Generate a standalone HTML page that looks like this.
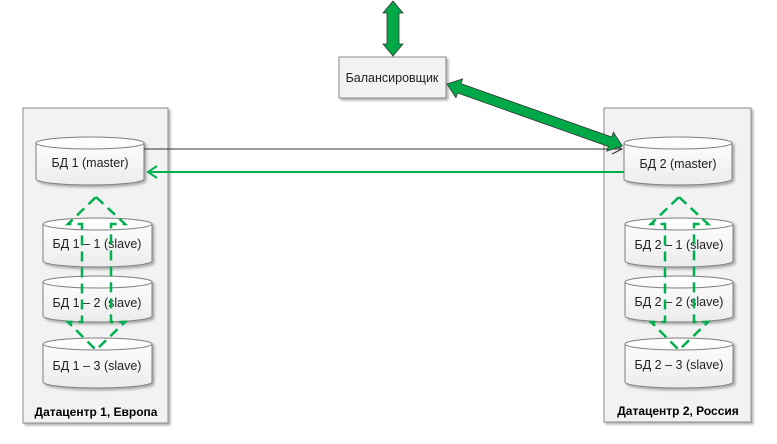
<!DOCTYPE html>
<html><head><meta charset="utf-8"><style>
html,body{margin:0;padding:0;background:#fff;}
svg{display:block;font-family:"Liberation Sans","DejaVu Sans",sans-serif;}
</style></head><body>
<svg width="777" height="444" viewBox="0 0 777 444">
<defs>
<linearGradient id="cg" x1="0" y1="0" x2="0" y2="1"><stop offset="0" stop-color="#ffffff"/><stop offset="1" stop-color="#ececec"/></linearGradient>
<filter id="sh" x="-10%" y="-10%" width="130%" height="130%"><feDropShadow dx="2" dy="2" stdDeviation="1.2" flood-color="#000" flood-opacity="0.3"/></filter>
</defs>
<rect x="23" y="108" width="145" height="315" fill="#f2f2f2" stroke="#8a8a8a" stroke-width="1" filter="url(#sh)"/>
<rect x="604" y="108" width="147" height="314" fill="#f2f2f2" stroke="#8a8a8a" stroke-width="1" filter="url(#sh)"/>
<text x="96" y="416" font-size="12" font-weight="bold" text-anchor="middle" fill="#000">Датацентр 1, Европа</text>
<text x="678" y="415" font-size="12" font-weight="bold" text-anchor="middle" fill="#000">Датацентр 2, Россия</text>

<g stroke="#7f7f7f" stroke-width="1" filter="url(#sh)">
<path d="M36,143 A54,6 0 0 1 144,143 V179 A54,6 0 0 1 36,179 Z" fill="url(#cg)"/>
<path d="M43,224 A54.5,6 0 0 1 152,224 V261 A54.5,6 0 0 1 43,261 Z" fill="url(#cg)"/>
<path d="M43,282 A54.5,6 0 0 1 152,282 V316 A54.5,6 0 0 1 43,316 Z" fill="url(#cg)"/>
<path d="M43,344 A54.5,6 0 0 1 152,344 V382 A54.5,6 0 0 1 43,382 Z" fill="url(#cg)"/>
<path d="M624,143 A54,6 0 0 1 732,143 V179 A54,6 0 0 1 624,179 Z" fill="url(#cg)"/>
<path d="M625,224 A54,6 0 0 1 733,224 V261 A54,6 0 0 1 625,261 Z" fill="url(#cg)"/>
<path d="M625,282 A54,6 0 0 1 733,282 V316 A54,6 0 0 1 625,316 Z" fill="url(#cg)"/>
<path d="M625,344 A54,6 0 0 1 733,344 V382 A54,6 0 0 1 625,382 Z" fill="url(#cg)"/>
</g>
<g stroke="#7f7f7f" stroke-width="1" fill="none">
<path d="M36,143 A54,6 0 0 0 144,143"/>
<path d="M43,224 A54.5,6 0 0 0 152,224"/>
<path d="M43,282 A54.5,6 0 0 0 152,282"/>
<path d="M43,344 A54.5,6 0 0 0 152,344"/>
<path d="M624,143 A54,6 0 0 0 732,143"/>
<path d="M625,224 A54,6 0 0 0 733,224"/>
<path d="M625,282 A54,6 0 0 0 733,282"/>
<path d="M625,344 A54,6 0 0 0 733,344"/>
</g>
<g font-size="12.5" fill="#222" text-anchor="middle">
<text x="90" y="167">БД 1 (master)</text>
<text x="97" y="248">БД 1 – 1 (slave)</text>
<text x="97" y="307">БД 1 – 2 (slave)</text>
<text x="97" y="370">БД 1 – 3 (slave)</text>
<text x="678" y="168">БД 2 (master)</text>
<text x="679" y="249">БД 2 – 1 (slave)</text>
<text x="679" y="306">БД 2 – 2 (slave)</text>
<text x="679" y="369">БД 2 – 3 (slave)</text>
</g>

<g fill="none" stroke="#00b050" stroke-width="2.5" stroke-dasharray="10,6">
<path d="M96,197 L125,224 L111,224 L111,322 L125,322 L96,350 L68,322 L82,322 L82,224 L68,224 Z"/>
<path d="M679,197 L708,224 L694,224 L694,322 L708,322 L679,350 L651,322 L665,322 L665,224 L651,224 Z"/>
</g>

<line x1="144" y1="149" x2="621" y2="149" stroke="#333" stroke-width="1"/>
<path d="M612,144 L622,149 L612,154" fill="none" stroke="#333" stroke-width="1"/>
<line x1="148" y1="172" x2="624" y2="172" stroke="#00b050" stroke-width="2"/>
<path d="M157,166 L148,172 L157,178" fill="none" stroke="#00b050" stroke-width="2"/>

<rect x="339" y="57" width="107" height="41" fill="#f2f2f2" stroke="#8a8a8a" stroke-width="1" filter="url(#sh)"/>
<text x="392" y="82" font-size="12.5" text-anchor="middle" fill="#222">Балансировщик</text>

<path d="M393,1 L403,13 L399,13 L399,44 L403,44 L393,56 L383,44 L387,44 L387,13 L383,13 Z" fill="#00a847" stroke="#333" stroke-width="0.8"/>
<g transform="translate(447,84) rotate(19.5)">
<path d="M0,0 L13,-10 L13,-5 L173,-5 L173,-10 L186,0 L173,10 L173,5 L13,5 L13,10 Z" fill="#00a847" stroke="#333" stroke-width="0.8"/>
</g>
</svg>
</body></html>
